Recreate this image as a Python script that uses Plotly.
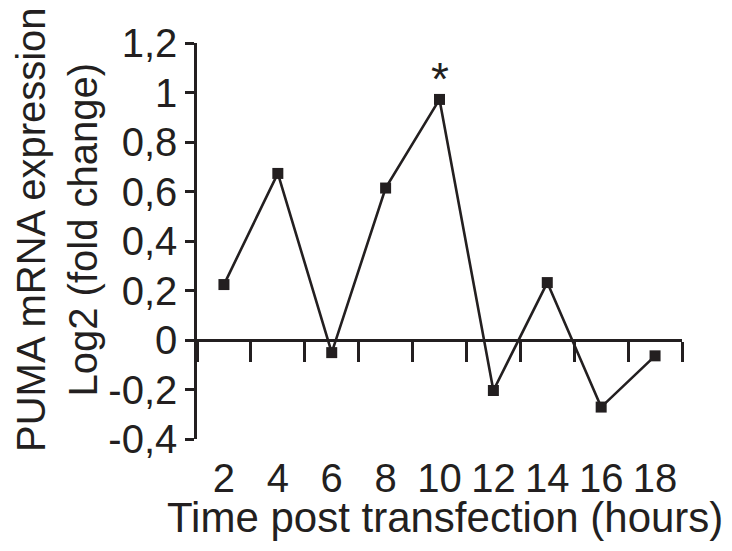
import plotly.graph_objects as go

# Data
hours = [2, 4, 6, 8, 10, 12, 14, 16, 18]
hour_labels = ["2", "4", "6", "8", "10", "12", "14", "16", "18"]
log2_fold_change = [0.224, 0.673, -0.051, 0.614, 0.972, -0.204, 0.232, -0.271, -0.064]
y_ticks = [-0.4, -0.2, 0.0, 0.2, 0.4, 0.6, 0.8, 1.0, 1.2]
y_tick_labels = ["-0,4", "-0,2", "0", "0,2", "0,4", "0,6", "0,8", "1", "1,2"]
significant_hours = [10]

INK = "#231f20"
FONT = "Liberation Sans, Arial, sans-serif"

y_min, y_max = y_ticks[0], y_ticks[-1]
x_min, x_max = hours[0] - 1, hours[-1] + 1
boundaries = [h - 1 for h in hours] + [hours[-1] + 1]

fig = go.Figure()
fig.add_trace(go.Scatter(
    x=hours, y=log2_fold_change, mode="lines+markers",
    line=dict(color=INK, width=2.6),
    marker=dict(symbol="square", size=11, color=INK),
    showlegend=False, cliponaxis=False,
))
# invisible trace on the label axis so it renders
fig.add_trace(go.Scatter(x=hours, y=log2_fold_change, xaxis="x2", mode="markers",
                         marker=dict(opacity=0), showlegend=False, hoverinfo="skip"))

annotations = []
for h in significant_hours:
    v = log2_fold_change[hours.index(h)]
    annotations.append(dict(x=h, y=v, xref="x", yref="y", text="*", showarrow=False,
                            yanchor="bottom", yshift=-8,
                            font=dict(family=FONT, size=46, color=INK)))

annotations.append(dict(
    x=-0.2887, y=0.5303, xref="paper", yref="paper",
    text="PUMA mRNA expression<br>Log2 (fold change)", textangle=-90,
    showarrow=False, xanchor="center", yanchor="middle",
    font=dict(family=FONT, size=40, color=INK)))
annotations.append(dict(
    x=0.5113, y=-0.198, xref="paper", yref="paper",
    text="Time post transfection (hours)",
    showarrow=False, xanchor="center", yanchor="middle",
    font=dict(family=FONT, size=42, color=INK)))

fig.update_layout(
    template="none",
    width=732, height=551,
    margin=dict(l=189, r=58, t=35, b=120, pad=0),
    paper_bgcolor="white", plot_bgcolor="white",
    font=dict(family=FONT, color=INK),
    xaxis=dict(
        range=[x_min, x_max], anchor="free",
        position=(0 - y_min) / (y_max - y_min),
        showgrid=False, zeroline=False, showline=True, linecolor=INK, linewidth=2.5,
        tickmode="array", tickvals=boundaries, ticks="outside", ticklen=20,
        tickwidth=2.5, tickcolor=INK, showticklabels=False, automargin=False,
    ),
    xaxis2=dict(
        range=[x_min, x_max], overlaying="x", anchor="free", position=0, side="bottom",
        showgrid=False, zeroline=False, showline=False, ticks="",
        tickmode="array", tickvals=hours, ticktext=hour_labels,
        tickfont=dict(family=FONT, size=40, color=INK), ticklabelstandoff=12,
        automargin=False,
    ),
    yaxis=dict(
        range=[y_min, y_max], showgrid=False, zeroline=False,
        showline=True, linecolor=INK, linewidth=2.5,
        tickmode="array", tickvals=y_ticks, ticktext=y_tick_labels,
        ticks="outside", ticklen=9, tickwidth=2.5, tickcolor=INK,
        tickfont=dict(family=FONT, size=40, color=INK), automargin=False,
    ),
    annotations=annotations,
)

fig.write_html("out.html")
